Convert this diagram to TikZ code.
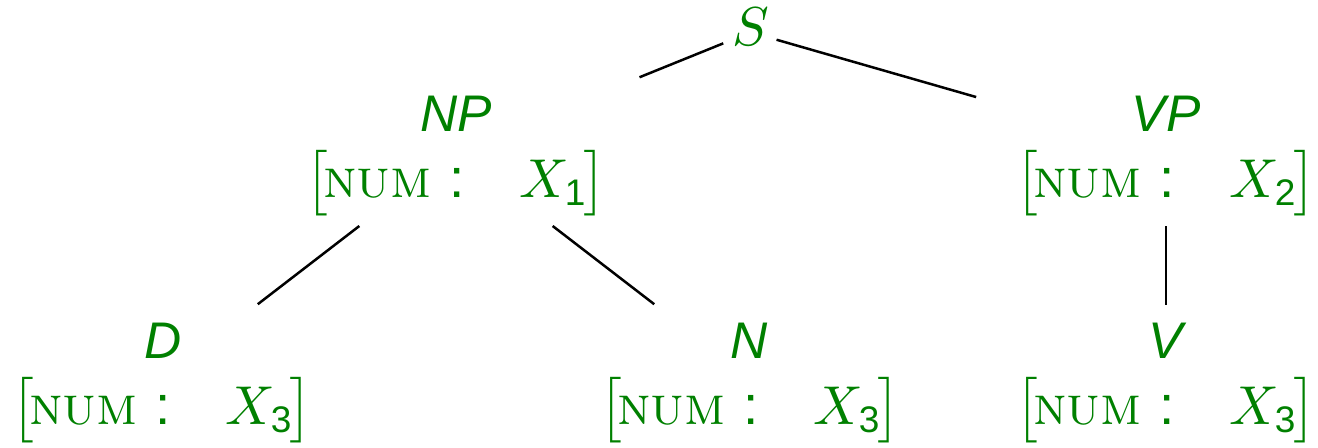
\documentclass[tikz,border=0pt]{standalone}
\usepackage{amsmath}
\usepackage{fontspec}
\usetikzlibrary{calc}
\newfontfamily\helv{Liberation Sans}
\definecolor{tgreen}{RGB}{0,128,0}
\newcommand{\cat}[1]{{\helv\itshape\fontsize{10.3}{12}\selectfont #1}}
\newcommand{\avm}[1]{$\nulldelimiterspace=0pt\mathopen{\left[\vcenter to 12.5pt{}\right.}\kern-1pt\mbox{\scshape num}\hspace{3.5pt}\mbox{\helv :}\quad X_{\hbox{\helv\fontsize{7.4}{8}\selectfont #1}}\kern-0.8pt\mathclose{\left.\vcenter to 12.5pt{}\right]}$}
\begin{document}
\begin{tikzpicture}[x=0.2pt,y=-0.2pt,
  lab/.style={text=tgreen, inner sep=0pt, anchor=base, font=\fontsize{11}{13}\selectfont},
  edge/.style={draw=black, line width=0.5pt}]
\useasboundingbox (0,0) rectangle (1318,448);
% labels
\node[lab] (S) at (750.6,46) {$S$};
\node[lab] (NP) at (456,131.7) {\cat{NP}};
\node[lab] (NPf) at (456,197.3) {\avm{1}};
\node[lab] (VP) at (1166,131.7) {\cat{VP}};
\node[lab] (VPf) at (1166,197.3) {\avm{2}};
\node[lab] (D) at (163,358.3) {\cat{D}};
\node[lab] (Df) at (162,424.3) {\avm{3}};
\node[lab] (N) at (749,358.3) {\cat{N}};
\node[lab] (Nf) at (750,424.3) {\avm{3}};
\node[lab] (V) at (1166,358.3) {\cat{V}};
\node[lab] (Vf) at (1166,424.3) {\avm{3}};
% edges
\draw[edge, shorten <=5.9pt, shorten >=39.6pt] ([yshift=2.74pt]S.base) -- ($(NP.base)!0.303!(NPf.base)$);
\draw[edge, shorten <=5.4pt, shorten >=39.5pt] ([yshift=2.74pt]S.base) -- ($(VP.base)!0.303!(VPf.base)$);
\draw[edge, shorten <=24.4pt, shorten >=24pt] ($(NP.base)!0.303!(NPf.base)$) -- ($(D.base)!0.29!(Df.base)$);
\draw[edge, shorten <=24.4pt, shorten >=24pt] ($(NP.base)!0.303!(NPf.base)$) -- ($(N.base)!0.29!(Nf.base)$);
\draw[edge, shorten <=14.9pt, shorten >=14.5pt] ($(VP.base)!0.303!(VPf.base)$) -- ($(V.base)!0.29!(Vf.base)$);
\end{tikzpicture}
\end{document}
